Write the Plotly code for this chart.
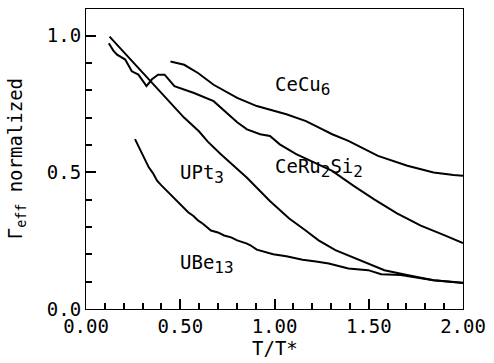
import plotly.graph_objects as go

# ---- data ----
upt3_x = [0.125, 0.20, 0.28, 0.356, 0.45, 0.52, 0.599, 0.646, 0.714, 0.78, 0.854, 0.974, 1.078, 1.16, 1.234, 1.323, 1.41, 1.495, 1.583, 1.703, 1.844, 2.0]
upt3_y = [0.996, 0.940, 0.880, 0.821, 0.750, 0.700, 0.650, 0.612, 0.567, 0.525, 0.480, 0.396, 0.331, 0.290, 0.251, 0.215, 0.190, 0.167, 0.142, 0.124, 0.105, 0.095]

ceru_x = [0.121, 0.145, 0.165, 0.208, 0.243, 0.278, 0.321, 0.35, 0.382, 0.417, 0.469, 0.521, 0.573, 0.677, 0.74, 0.802, 0.854, 0.924, 0.976, 1.028, 1.115, 1.2, 1.306, 1.42, 1.531, 1.65, 1.776, 1.9, 2.0]
ceru_y = [0.972, 0.945, 0.930, 0.912, 0.869, 0.857, 0.815, 0.840, 0.857, 0.857, 0.815, 0.802, 0.790, 0.760, 0.720, 0.683, 0.657, 0.639, 0.633, 0.602, 0.566, 0.538, 0.505, 0.450, 0.400, 0.350, 0.305, 0.270, 0.241]

cecu_x = [0.448, 0.521, 0.594, 0.677, 0.802, 0.906, 1.063, 1.167, 1.236, 1.306, 1.392, 1.549, 1.705, 1.844, 1.95, 2.0]
cecu_y = [0.905, 0.893, 0.863, 0.820, 0.772, 0.742, 0.712, 0.687, 0.663, 0.639, 0.615, 0.560, 0.524, 0.499, 0.490, 0.487]

ube_x = [0.26, 0.275, 0.29, 0.31, 0.333, 0.355, 0.377, 0.40, 0.4375, 0.46, 0.49, 0.51, 0.542, 0.57, 0.594, 0.62, 0.663, 0.70, 0.733, 0.77, 0.802, 0.854, 0.872, 0.906, 0.95, 0.993, 1.063, 1.149, 1.22, 1.288, 1.392, 1.497, 1.566, 1.67, 1.76, 1.844, 2.0]
ube_y = [0.621, 0.600, 0.578, 0.552, 0.518, 0.497, 0.469, 0.452, 0.427, 0.412, 0.390, 0.378, 0.354, 0.340, 0.324, 0.312, 0.287, 0.280, 0.269, 0.262, 0.251, 0.239, 0.233, 0.217, 0.208, 0.200, 0.193, 0.180, 0.174, 0.166, 0.148, 0.142, 0.127, 0.124, 0.114, 0.105, 0.096]

SUB = "<sub><span style='font-size:16px'>{}</span></sub>"
labels = ["CeCu" + SUB.format("6"), "CeRu" + SUB.format("2") + "Si" + SUB.format("2"),
          "UPt" + SUB.format("3"), "UBe" + SUB.format("13")]
label_x = [0.99, 0.99, 0.49, 0.49]
label_y = [0.815, 0.515, 0.495, 0.165]

X_RANGE = [0, 2.0]
Y_RANGE = [0, 1.097]

FONT = "DejaVu Sans Mono"
FS = 19

fig = go.Figure()
for xs, ys in [(cecu_x, cecu_y), (ceru_x, ceru_y), (upt3_x, upt3_y), (ube_x, ube_y)]:
    fig.add_trace(go.Scatter(x=xs, y=ys, mode="lines",
                             line=dict(color="black", width=2), showlegend=False))

for t, lx, ly in zip(labels, label_x, label_y):
    fig.add_annotation(x=lx, y=ly, text=t, showarrow=False, xanchor="left")

# axis titles as paper annotations (plot area: x 86..470, y 8..309 px)
fig.add_annotation(x=0.5, y=-0.13, xref="paper", yref="paper", text="T/T*", showarrow=False,
                   yanchor="middle")
fig.add_annotation(x=-0.185, y=0.5, xref="paper", yref="paper", text="Γ<sub>eff</sub> normalized",
                   showarrow=False, textangle=-90, xanchor="center", yanchor="middle")

fig.update_xaxes(range=X_RANGE, dtick=0.5, tickformat=".2f",
                 ticks="inside", ticklen=10, tickwidth=2, tickcolor="black",
                 showline=True, linecolor="black", mirror=True,
                 minor=dict(ticks="inside", dtick=0.1, ticklen=6, tickcolor="black"))
fig.update_yaxes(range=Y_RANGE, dtick=0.5, tickformat=".1f",
                 ticks="inside", ticklen=10, tickwidth=2, tickcolor="black",
                 showline=True, linecolor="black", mirror=True,
                 minor=dict(ticks="inside", dtick=0.1, ticklen=6, tickcolor="black"))

fig.update_layout(width=494, height=363, margin=dict(l=86, r=24, t=8, b=54),
                  template="simple_white",
                  font=dict(family=FONT, size=FS, color="black"))

fig.write_html("out.html", post_script="document.body.style.margin='0';",
               config={"displayModeBar": False})
